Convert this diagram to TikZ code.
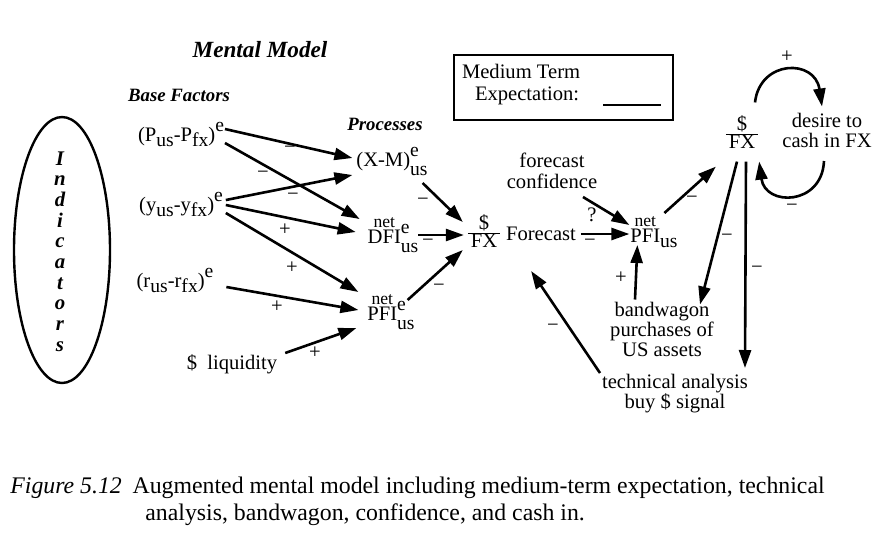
\documentclass[tikz,border=0pt]{standalone}
\usepackage{fontspec}
\setmainfont{Liberation Serif}
\usetikzlibrary{arrows.meta,calc,shapes.geometric}
\newcommand{\fs}{\fontsize{10.3}{10}\selectfont}
\newcommand{\sfs}{\fontsize{9.8}{9}\selectfont}
\newcommand{\lo}[1]{\raisebox{-0.6ex}{\sfs #1}}
\newcommand{\hi}[1]{\raisebox{1.0ex}{\sfs #1}}
\newcommand{\hilo}[2]{\makebox[0pt][l]{\raisebox{1.0ex}{\sfs #1}}\raisebox{-1.0ex}{\sfs #2}}
\newlength{\nwid}
\newcommand{\netover}[1]{\settowidth{\nwid}{#1}\makebox[0pt][l]{\raisebox{1.65ex}{\makebox[\nwid][c]{\fontsize{8.8}{9}\selectfont net}}}#1}
\newcommand{\frc}{{\renewcommand{\arraystretch}{0.95}\setlength{\arrayrulewidth}{0.7pt}\begin{tabular}{@{\hspace{1.5pt}}c@{\hspace{1.5pt}}}\$\\[-1pt]\hline FX\end{tabular}}}
\begin{document}
\begin{tikzpicture}[x=0.5pt,y=-0.5pt,
  txt/.style={font=\fs, inner sep=0pt, outer sep=0pt},
  mtxt/.style={txt, align=center},
  bi/.style={inner sep=0pt, font=\fontsize{9.4}{10}\selectfont\bfseries\itshape},
  arr/.style={-{Triangle[length=9pt,width=6pt]}, line width=1.3pt},
  sgn/.style={font=\fs, inner sep=0pt},
  captxt/.style={inner sep=0pt, font=\fontsize{11.9}{13}\selectfont}]
\useasboundingbox (0,0) rectangle (880,554);
\fill[white] (0,0) rectangle (880,554);

% headings
\node[inner sep=0pt, font=\fontsize{11.6}{12}\selectfont\bfseries\itshape, anchor=base] (title) at (260,57) {Mental Model};
\node[bi, anchor=base] (basef) at (179,101) {Base Factors};
\node[bi, anchor=base] (proc) at (385,130) {Processes};

% indicators ellipse
\node[draw, ellipse, line width=1.2pt, minimum width=48pt, minimum height=133pt, inner sep=0pt] (ind) at (62,250) {};
\node[inner sep=0pt, align=center, font=\fontsize{10.4}{10.35}\selectfont\bfseries\itshape] (indtxt) at (60,251.5) {I\\n\\d\\i\\c\\a\\t\\o\\r\\s};

% base factors
\node[txt, anchor=base] (P) at (181,141) {(P\lo{us}-P\lo{fx})\hi{e}};
\node[txt, anchor=base] (Y) at (181,211) {(y\lo{us}-y\lo{fx})\hi{e}};
\node[txt, anchor=base] (R) at (175,287) {(r\lo{us}-r\lo{fx})\hi{e}};
\node[txt, anchor=base] (L) at (232,369) {\$~~liquidity};

% processes
\node[txt, anchor=base] (XM) at (392,166) {(X-M)\hilo{e}{us}};
\node[txt, anchor=base] (DFI) at (393,243) {\netover{DFI}\hilo{e}{us}};
\node[txt, anchor=base] (PFIL) at (391,320) {\netover{PFI}\hilo{e}{us}};

% forecast
\node[txt] (F1) at (484,234) {\frc};
\node[txt, anchor=base] (fc) at (541,240) {Forecast};
\node[mtxt, anchor=south] (conf) at (552,189) {forecast\\[0.5pt]confidence};
\node[txt, anchor=base] (PFIR) at (654,242) {\netover{PFI}\lo{us}};
\node[txt] (F2) at (742,135) {\frc};
\node[mtxt, anchor=south] (desire) at (827,148) {desire to\\cash in FX};
\node[mtxt, anchor=south] (BW) at (662,357) {bandwagon\\purchases of\\US assets};
\node[mtxt, anchor=north] (TA) at (675,374) {technical analysis\\buy \$ signal};

% legend box
\node[draw, line width=0.9pt, minimum width=109.5pt, minimum height=32.5pt, inner sep=0pt] (box) at (563.5,87.5) {};
\node[txt, anchor=base west] (mt1) at (462,78) {Medium Term};
\node[txt, anchor=base west] (mt2) at (475,100) {Expectation:};
\draw[line width=1.3pt] ($(mt2.base east)+(24,5)$) -- +(58,0);

% connectors: base factors -> processes
\draw[arr] ($(P.base east)+(1,-12)$) -- ($(XM.base west)+(-4,-8)$);
\draw[arr] ($(P.base east)+(1,2)$) -- ($(DFI.base west)+(-8,-24)$);
\draw[arr] ($(Y.base east)+(3,-11)$) -- ($(XM.base west)+(-4,9)$);
\draw[arr] ($(Y.base east)+(3,-6)$) -- ($(DFI.base west)+(-12,-11)$);
\draw[arr] ($(Y.base east)+(3,2)$) -- ($(PFIL.base west)+(-9,-28)$);
\draw[arr] ($(R.base east)+(13,0)$) -- ($(PFIL.base west)+(-9,-10)$);
\draw[arr] ($(L.base east)+(8,-16)$) -- ($(PFIL.base west)+(-11,8)$);

% processes -> forecast
\draw[arr] ($(XM.base east)+(-5,17)$) -- ($(F1.west)+(-5,-12)$);
\draw[arr] ($(DFI.base east)+(0,-8)$) -- ($(F1.west)+(-4,1)$);
\draw[arr] ($(PFIL.base east)+(-7,-20)$) -- ($(F1.west)+(-5,16)$);

% right part
\draw[arr] ($(conf.south)+(31,8)$) -- ($(PFIR.base west)+(-1,-17)$);
\draw[arr] ($(fc.base east)+(5,-6)$) -- ($(PFIR.base west)+(-1,-8)$);
\draw[arr] ($(PFIR.base west)+(34,-29)$) -- ($(F2.south west)+(-10,12)$);
\draw[arr] ($(F2.south)+(-5,7)$) -- ($(BW.north)+(38,2)$);
\draw[arr] ($(F2.south)+(4,7)$) -- ($(TA.north)+(70,-6)$);
\draw[arr] ($(BW.north)+(-27,-3)$) -- ($(PFIR.base west)+(7,3)$);
\draw[arr] ($(TA.north)+(-75,-1)$) -- ($(fc.base west)+(25,31)$);
\draw[arr] ($(F2.north)+(13,-13)$) .. controls +(5,-43) and +(-7,-48) .. ($(desire.north)+(-5,-7)$);
\draw[arr] ($(desire.south)+(-3,13)$) .. controls +(-2,45) and +(6,45) .. ($(F2.south east)+(1,7)$);

% signs
\node[sgn] (s1) at (290,150) {−};
\node[sgn] (s2) at (263,175) {−};
\node[sgn] (s3) at (293,197) {−};
\node[sgn] (s4) at (285,230) {+};
\node[sgn] (s5) at (292,268) {+};
\node[sgn] (s6) at (277,307) {+};
\node[sgn] (s7) at (315,353) {+};
\node[sgn] (s8) at (423,202) {−};
\node[sgn] (s9) at (428,243) {−};
\node[sgn] (s10) at (439,288) {−};
\node[sgn] (s11) at (592,215) {?};
\node[sgn] (s12) at (590,243) {−};
\node[sgn] (s13) at (692,200) {−};
\node[sgn] (s14) at (727,238) {−};
\node[sgn] (s15) at (757,270) {−};
\node[sgn] (s16) at (621,278) {+};
\node[sgn] (s17) at (553,328) {−};
\node[sgn] (s18) at (787,57) {+};
\node[sgn] (s19) at (792,208) {−};

% caption
\node[captxt, anchor=base west] (cap1) at (10,493) {\textit{Figure 5.12}\hspace{0.45em}Augmented mental model including medium-term expectation, technical};
\node[captxt, anchor=base west] (cap2) at (145,520) {analysis, bandwagon, confidence, and cash in.};
\end{tikzpicture}
\end{document}
